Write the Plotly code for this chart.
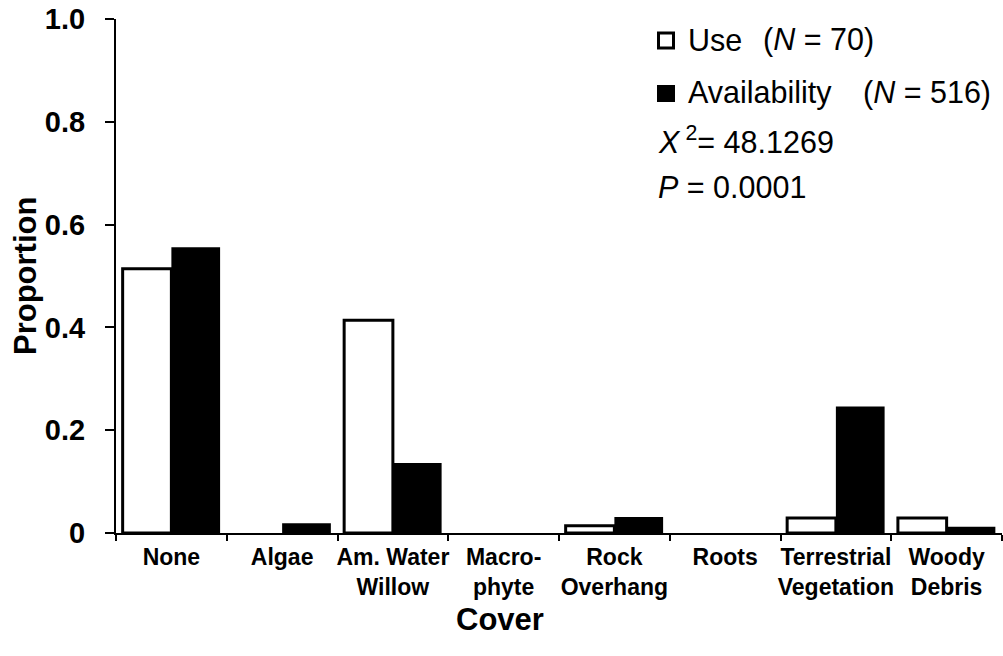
import plotly.graph_objects as go

# Habitat cover categories and proportions of use vs. availability
categories = ["None", "Algae", "Am. Water Willow", "Macrophyte",
              "Rock Overhang", "Roots", "Terrestrial Vegetation", "Woody Debris"]
tick_labels = ["None", "Algae", "Am. Water<br>Willow", "Macro-<br>phyte",
               "Rock<br>Overhang", "Roots", "Terrestrial<br>Vegetation", "Woody<br>Debris"]
use_prop = [0.514, 0.0, 0.414, 0.0, 0.014, 0.0, 0.029, 0.029]
avail_prop = [0.556, 0.019, 0.136, 0.0, 0.031, 0.0, 0.246, 0.012]
y_ticks = [0, 0.2, 0.4, 0.6, 0.8, 1.0]
y_tick_text = ["0", "0.2", "0.4", "0.6", "0.8", "1.0"]

W, H = 1003, 656
PX0, PX1, PY0, PY1 = 116, 1002, 19, 533
FONT = "Arial, Liberation Sans, sans-serif"


def px(x):
    return (x - PX0) / (PX1 - PX0)


def py(y):
    return (PY1 - y) / (PY1 - PY0)


# empty categories get no outline so nothing is drawn for them
use_outline = [3 if v > 0 else 0 for v in use_prop]

fig = go.Figure()
fig.add_trace(go.Bar(x=categories, y=use_prop, name="Use",
                     marker=dict(color="white",
                                 line=dict(color="black", width=use_outline))))
fig.add_trace(go.Bar(x=categories, y=avail_prop, name="Availability",
                     marker=dict(color="black", line=dict(color="black", width=0))))

annotations = [
    dict(text="Cover", x=px(500), y=py(619), font=dict(size=31, weight="bold")),
    dict(text="Proportion", x=px(25), y=py(276), textangle=-90,
         font=dict(size=31, weight="bold")),
    dict(text="Use", x=px(686), y=py(40), xanchor="left"),
    dict(text="(<i>N</i> = 70)", x=px(761), y=py(40), xanchor="left"),
    dict(text="Availability", x=px(686), y=py(92), xanchor="left"),
    dict(text="(<i>N</i> = 516)", x=px(861), y=py(92), xanchor="left"),
    dict(text="<i>X</i>\u2009<sup>2</sup>= 48.1269", x=px(656), y=py(140), xanchor="left"),
    dict(text="<i>P</i> = 0.0001", x=px(656), y=py(187), xanchor="left"),
]
for a in annotations:
    a.setdefault("font", dict(size=30.5))
    a["font"].setdefault("family", FONT)
    a["font"].setdefault("color", "black")
    a.update(xref="paper", yref="paper", showarrow=False)
    a.setdefault("xanchor", "center")
    a.setdefault("yanchor", "middle")

shapes = [
    dict(type="rect", xref="paper", yref="paper",
         x0=px(658.5), x1=px(673.5), y0=py(48), y1=py(33),
         line=dict(color="black", width=3), fillcolor="white"),
    dict(type="rect", xref="paper", yref="paper",
         x0=px(657), x1=px(675), y0=py(102), y1=py(85),
         line=dict(color="black", width=0), fillcolor="black"),
]

fig.update_layout(
    width=W, height=H,
    margin=dict(l=PX0, r=W - PX1, t=PY0, b=H - PY1),
    paper_bgcolor="white", plot_bgcolor="white",
    barmode="group", bargap=0.12, bargroupgap=0,
    showlegend=False,
    font=dict(family=FONT, color="black"),
    annotations=annotations,
    shapes=shapes,
    xaxis=dict(
        tickmode="array", tickvals=categories, ticktext=tick_labels,
        tickson="boundaries", ticks="outside", ticklen=6, tickwidth=2,
        tickcolor="black", showline=True, linecolor="black", linewidth=2,
        showgrid=False, zeroline=False, range=[-0.5, 7.5],
        tickangle=0, automargin=False,
        tickfont=dict(size=23, weight="bold", family=FONT, color="black"),
        ticklabelstandoff=2,
    ),
    yaxis=dict(
        range=[0, 1], tickmode="array", tickvals=y_ticks, ticktext=y_tick_text,
        ticks="outside", ticklen=9, tickwidth=2, tickcolor="black",
        showline=True, linecolor="black", linewidth=2,
        showgrid=False, zeroline=False, automargin=False,
        tickfont=dict(size=29, weight="bold", family=FONT, color="black"),
        ticklabelstandoff=14,
    ),
)

fig.write_html("out.html")
